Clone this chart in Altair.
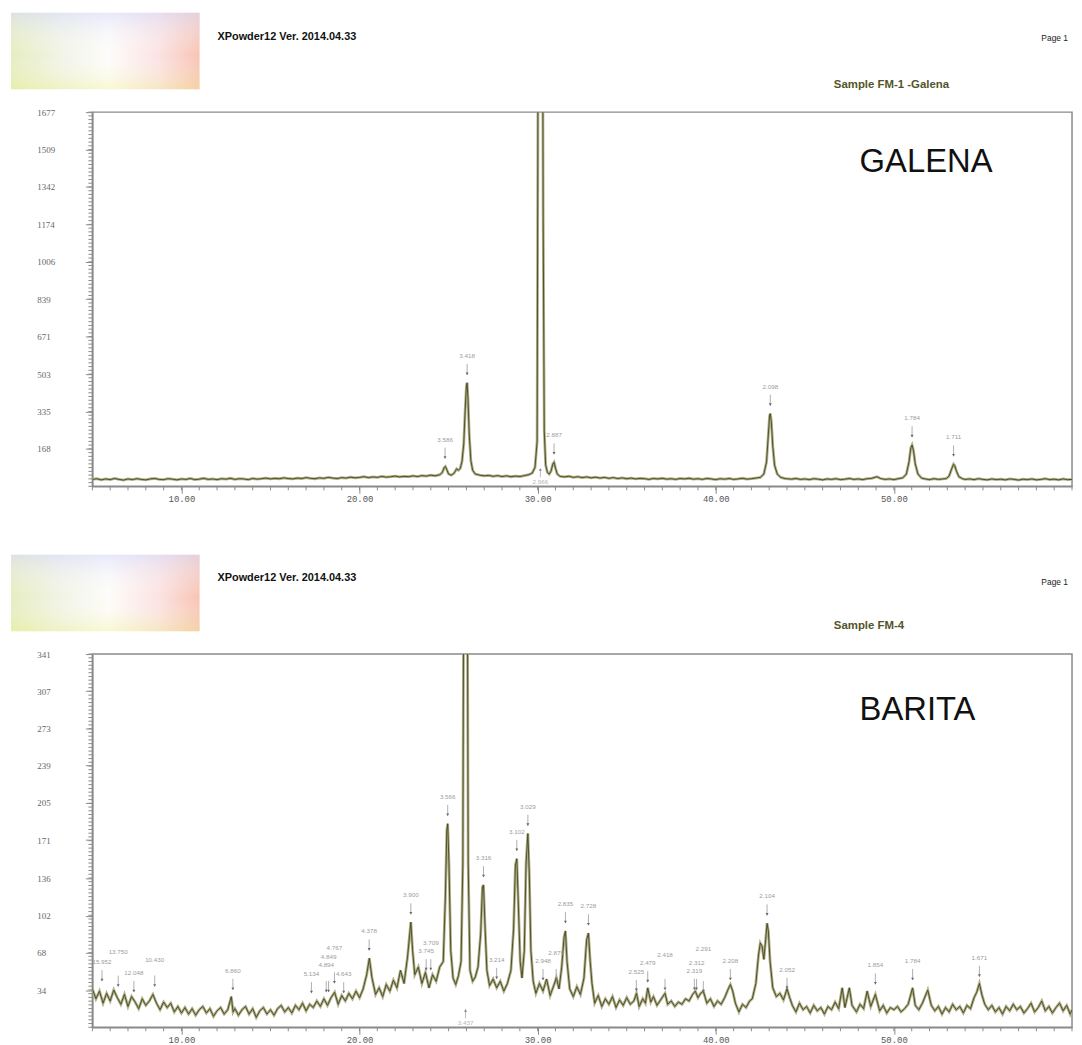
import altair as alt
import pandas as pd
import numpy as np

# ---------------- Sample FM-1 (Galena) ----------------
GALENA_TTH = [
    5.00, 5.25, 5.50, 5.75, 6.00, 6.25, 6.50, 6.75, 7.00, 7.25,
    7.50, 7.75, 8.00, 8.25, 8.50, 8.75, 9.00, 9.25, 9.50, 9.75,
    10.00, 10.25, 10.50, 10.75, 11.00, 11.25, 11.50, 11.75, 12.00, 12.25,
    12.50, 12.75, 13.00, 13.25, 13.50, 13.75, 14.00, 14.25, 14.50, 14.75,
    15.00, 15.25, 15.50, 15.75, 16.00, 16.25, 16.50, 16.75, 17.00, 17.25,
    17.50, 17.75, 18.00, 18.25, 18.50, 18.75, 19.00, 19.25, 19.50, 19.75,
    20.00, 20.25, 20.50, 20.75, 21.00, 21.25, 21.50, 21.75, 22.00, 22.25,
    22.50, 22.75, 23.00, 23.25, 23.50, 23.75, 24.00, 24.25, 24.50, 24.65,
    24.75, 24.82, 24.90, 25.00, 25.15, 25.30, 25.45, 25.55, 25.65, 25.75,
    25.85, 25.93, 26.00, 26.04, 26.09, 26.16, 26.25, 26.35, 26.50, 26.75,
    27.00, 27.25, 27.50, 27.75, 28.00, 28.25, 28.50, 28.75, 29.00, 29.25,
    29.50, 29.70, 29.85, 29.97, 30.01, 30.05, 30.17, 30.25, 30.31, 30.37,
    30.45, 30.55, 30.65, 30.75, 30.85, 30.92, 31.00, 31.10, 31.25, 31.50,
    31.75, 32.00, 32.25, 32.50, 32.75, 33.00, 33.25, 33.50, 33.75, 34.00,
    34.25, 34.50, 34.75, 35.00, 35.25, 35.50, 35.75, 36.00, 36.25, 36.50,
    36.75, 37.00, 37.25, 37.50, 37.75, 38.00, 38.25, 38.50, 38.75, 39.00,
    39.25, 39.50, 39.75, 40.00, 40.25, 40.50, 40.75, 41.00, 41.25, 41.50,
    41.75, 42.00, 42.25, 42.50, 42.70, 42.85, 42.95, 43.02, 43.06, 43.12,
    43.20, 43.30, 43.45, 43.65, 43.90, 44.25, 44.50, 44.75, 45.00, 45.25,
    45.50, 45.75, 46.00, 46.25, 46.50, 46.75, 47.00, 47.25, 47.50, 47.75,
    48.00, 48.25, 48.50, 48.75, 49.05, 49.25, 49.50, 49.75, 50.00, 50.25,
    50.50, 50.70, 50.85, 50.95, 51.02, 51.10, 51.20, 51.35, 51.55, 51.75,
    52.00, 52.25, 52.50, 52.75, 52.95, 53.10, 53.25, 53.35, 53.42, 53.52,
    53.65, 53.85, 54.00, 54.25, 54.50, 54.75, 55.00, 55.25, 55.50, 55.75,
    56.00, 56.25, 56.50, 56.75, 57.00, 57.25, 57.50, 57.75, 58.00, 58.25,
    58.50, 58.75, 59.00, 59.25, 59.50, 59.75, 60.00,
]
GALENA_I = [
    31, 34, 29, 33, 30, 35, 31, 28, 33, 30,
    34, 31, 29, 33, 35, 31, 30, 34, 32, 29,
    33, 31, 35, 30, 32, 36, 31, 33, 30, 34,
    32, 36, 31, 34, 33, 30, 35, 32, 34, 37,
    33, 36, 34, 38, 35, 33, 37, 35, 39, 36,
    34, 38, 36, 40, 37, 35, 39, 37, 41, 38,
    40, 43, 39, 42, 40, 44, 41, 43, 46, 42,
    45, 43, 47, 44, 48, 46, 50, 47, 52, 62,
    84, 89, 74, 55, 50, 58, 78, 72, 80, 110,
    190, 340, 450, 464, 390, 230, 115, 72, 55, 50,
    47, 49, 45, 48, 44, 47, 43, 46, 44, 48,
    52, 60, 85, 200, 1500, 3500, 4000, 3000, 1200, 250,
    95, 62, 55, 68, 100, 108, 82, 55, 45, 42,
    45, 40, 43, 39, 42, 38, 41, 37, 40, 36,
    39, 35, 38, 34, 37, 33, 36, 34, 31, 35,
    33, 36, 32, 34, 31, 35, 33, 36, 32, 34,
    31, 35, 33, 30, 34, 32, 35, 31, 33, 36,
    32, 34, 37, 40, 55, 110, 230, 315, 326, 290,
    180, 95, 55, 40, 35, 32, 35, 31, 33, 30,
    34, 32, 29, 33, 31, 34, 30, 32, 35, 31,
    33, 30, 34, 36, 43, 35, 31, 33, 30, 34,
    38, 55, 110, 172, 185, 160, 100, 55, 37, 33,
    30, 34, 31, 33, 35, 46, 80, 99, 92, 66,
    43, 34, 31, 33, 30, 34, 31, 29, 33, 30,
    32, 29, 33, 31, 28, 32, 30, 33, 29, 31,
    34, 30, 32, 29, 33, 30, 31,
]
GALENA_PEAK_TTH = [24.80, 26.04, 30.92, 43.06, 51.02, 53.35]
GALENA_PEAK_I = [89, 464, 108, 326, 185, 99]
GALENA_PEAK_LABEL = ["3.586", "3.418", "2.887", "2.098", "1.784", "1.711"]
GALENA_OFF_TTH = [30.15]
GALENA_OFF_LABEL = ["2.966"]
GALENA_Y_TICKS = [168, 335, 503, 671, 839, 1006, 1174, 1342, 1509, 1677]

# ---------------- Sample FM-4 (Barita) ----------------
BARITA_TTH = [
    5.0, 5.2, 5.4, 5.6, 5.8, 6.0, 6.2, 6.4, 6.6, 6.8,
    7.0, 7.2, 7.4, 7.6, 7.8, 8.0, 8.2, 8.4, 8.6, 8.8,
    9.0, 9.2, 9.4, 9.6, 9.8, 10.0, 10.2, 10.4, 10.6, 10.8,
    11.0, 11.2, 11.4, 11.6, 11.8, 12.0, 12.2, 12.4, 12.6, 12.8,
    12.9, 13.0, 13.2, 13.4, 13.6, 13.8, 14.0, 14.2, 14.4, 14.6,
    14.8, 15.0, 15.2, 15.4, 15.6, 15.8, 16.0, 16.2, 16.4, 16.6,
    16.8, 17.0, 17.2, 17.4, 17.6, 17.8, 18.0, 18.2, 18.4, 18.6,
    18.8, 19.0, 19.2, 19.4, 19.6, 19.8, 20.0, 20.2, 20.4, 20.55,
    20.7, 20.9, 21.1, 21.3, 21.5, 21.7, 21.9, 22.1, 22.3, 22.5,
    22.7, 22.78, 22.88, 22.98, 23.1, 23.3, 23.5, 23.7, 23.9, 24.1,
    24.3, 24.5, 24.7, 24.82, 24.9, 24.95, 25.02, 25.12, 25.25, 25.4,
    25.55, 25.7, 25.8, 25.88, 25.95, 26.02, 26.1, 26.2, 26.35, 26.5,
    26.65, 26.8, 26.9, 26.96, 27.05, 27.15, 27.3, 27.5, 27.7, 27.9,
    28.1, 28.3, 28.5, 28.65, 28.75, 28.83, 28.92, 29.02, 29.12, 29.25,
    29.35, 29.45, 29.53, 29.62, 29.75, 29.9, 30.1, 30.3, 30.5, 30.7,
    30.9, 31.05, 31.2, 31.35, 31.48, 31.56, 31.65, 31.8, 32.0, 32.2,
    32.4, 32.6, 32.75, 32.85, 32.95, 33.05, 33.2, 33.4, 33.6, 33.8,
    34.0, 34.2, 34.4, 34.6, 34.8, 35.0, 35.2, 35.4, 35.55, 35.7,
    35.9, 36.05, 36.18, 36.35, 36.5, 36.7, 36.9, 37.15, 37.3, 37.5,
    37.7, 37.9, 38.1, 38.3, 38.5, 38.7, 38.85, 39.0, 39.15, 39.3,
    39.5, 39.7, 39.9, 40.1, 40.3, 40.5, 40.7, 40.82, 40.95, 41.1,
    41.3, 41.5, 41.7, 41.9, 42.05, 42.25, 42.4, 42.5, 42.6, 42.7,
    42.8, 42.88, 42.95, 43.05, 43.2, 43.4, 43.6, 43.8, 44.0, 44.15,
    44.3, 44.5, 44.7, 44.9, 45.1, 45.3, 45.5, 45.7, 45.9, 46.1,
    46.3, 46.5, 46.7, 46.9, 47.1, 47.25, 47.5, 47.65, 47.9, 48.1,
    48.3, 48.5, 48.7, 48.96, 49.2, 49.4, 49.6, 49.8, 50.0, 50.2,
    50.4, 50.6, 50.8, 51.05, 51.2, 51.4, 51.6, 51.9, 52.1, 52.3,
    52.5, 52.7, 52.9, 53.1, 53.3, 53.5, 53.7, 53.9, 54.1, 54.3,
    54.5, 54.65, 54.8, 54.95, 55.1, 55.3, 55.5, 55.7, 55.9, 56.1,
    56.3, 56.5, 56.7, 56.9, 57.1, 57.3, 57.5, 57.7, 57.9, 58.1,
    58.3, 58.5, 58.7, 58.9, 59.1, 59.3, 59.5, 59.7, 59.9, 60.0,
]
BARITA_I = [
    35, 26, 33, 22, 31, 24, 34, 27, 21, 30,
    19, 28, 23, 17, 26, 20, 24, 30, 22, 16,
    23, 18, 22, 14, 19, 13, 18, 12, 17, 11,
    16, 19, 13, 17, 10, 15, 18, 12, 16, 28,
    14, 17, 11, 16, 19, 12, 17, 9, 15, 18,
    12, 16, 11, 17, 20, 14, 18, 13, 20, 16,
    22, 15, 21, 18, 24, 19, 26, 20, 27, 32,
    21, 29, 24, 31, 26, 33, 27, 35, 48, 63,
    45, 30, 36, 28, 39, 33, 43, 36, 52, 40,
    65, 79, 96, 70, 48, 55, 40, 50, 36, 48,
    42, 55, 60, 120, 180, 186, 150, 70, 45, 39,
    47, 60, 150, 600, 800, 600, 150, 52, 42, 46,
    55, 85, 128, 130, 90, 52, 38, 44, 36, 42,
    33, 40, 52, 90, 148, 154, 110, 60, 45, 70,
    150, 177, 140, 70, 42, 31, 40, 33, 44, 29,
    38, 45, 35, 55, 82, 88, 60, 35, 28, 37,
    30, 45, 80, 86, 60, 40, 22, 29, 19, 26,
    21, 28, 18, 25, 20, 27, 21, 24, 31, 19,
    26, 22, 36, 23, 28, 20, 25, 31, 21, 24,
    19, 23, 21, 26, 24, 30, 33, 27, 31, 33,
    22, 26, 19, 24, 21, 27, 35, 39, 33, 22,
    14, 21, 18, 24, 26, 40, 66, 77, 74, 62,
    80, 95, 88, 60, 36, 28, 31, 25, 35, 27,
    20, 14, 22, 16, 19, 13, 20, 15, 18, 12,
    19, 16, 23, 17, 36, 18, 36, 20, 14, 21,
    17, 33, 19, 30, 15, 20, 13, 18, 16, 19,
    14, 17, 21, 36, 20, 16, 22, 34, 20, 15,
    19, 12, 18, 14, 21, 16, 19, 13, 20, 17,
    27, 32, 40, 29, 21, 16, 20, 14, 18, 12,
    19, 15, 21, 16, 19, 13, 17, 22, 14, 18,
    24, 15, 19, 13, 18, 22, 15, 20, 12, 16,
]
BARITA_PEAK_TTH = [5.54, 6.45, 7.33, 8.50, 12.89, 17.30, 18.13, 18.26, 18.59, 19.11,
                   20.54, 22.88, 23.74, 24.00, 24.95, 26.96, 27.70, 28.83, 29.45, 30.30,
                   31.04, 31.56, 32.85, 35.54, 36.18, 37.15, 38.80, 38.92, 39.30, 40.82,
                   42.88, 44.00, 48.96, 51.05, 54.80]
BARITA_PEAK_I = [35, 30, 25, 30, 27, 24, 25, 25, 33, 24,
                 63, 96, 45, 45, 186, 130, 37, 154, 177, 36,
                 36, 88, 86, 26, 34, 27, 27, 27, 25, 36,
                 95, 28, 32, 36, 39]
BARITA_PEAK_LABEL = ["15.952", "13.750", "12.048", "10.430", "6.860", "5.134", "4.894", "4.849", "4.767", "4.643",
                     "4.378", "3.900", "3.745", "3.709", "3.566", "3.316", "3.214", "3.102", "3.029", "2.948",
                     "2.879", "2.835", "2.728", "2.525", "2.479", "2.418", "2.319", "2.312", "2.291", "2.208",
                     "2.104", "2.052", "1.854", "1.784", "1.671"]
BARITA_OFF_TTH = [25.95]
BARITA_OFF_LABEL = ["3.437"]
BARITA_Y_TICKS = [34, 68, 102, 136, 171, 205, 239, 273, 307, 341]

X_TICKS = [10, 20, 30, 40, 50]
X_MINOR = list(range(5, 61))

W = 987
X0, X1 = 5, 60
LINE_DARK = "#45451f"
LINE_LIGHT = "#b0b08a"
AXIS_GRAY = "#8a8a8a"
LAB_FONT = 6.3
LAB_DY = -27
TIER_PX = 8


def tiered_label_heights(tth, inten, labs, ymax, h):
    """Greedy layout: lift a label by whole tiers until it clears earlier ones."""
    order = np.argsort(tth)
    placed = []
    out = [0.0] * len(tth)
    for i in order:
        px = (tth[i] - X0) / (X1 - X0) * W
        w = len(labs[i]) * LAB_FONT * 0.56 + 2
        base = h - inten[i] / ymax * h + LAB_DY
        tier = 0
        while tier < 8:
            py = base - tier * TIER_PX
            clash = any(abs(px - qx) < (w + qw) / 2 and abs(py - qy) < TIER_PX
                        for qx, qy, qw in placed)
            if not clash:
                break
            tier += 1
        placed.append((px, base - tier * TIER_PX, w))
        out[i] = inten[i] + tier * TIER_PX * ymax / h
    return out


def panel(tth, inten, yticks, pk_tth, pk_i, pk_lab, off_tth, off_lab,
          sample, mineral, h, ys):
    ymax = yticks[-1]
    df = pd.DataFrame({"tth": tth, "I": inten})
    xs = alt.Scale(domain=[X0, X1], nice=False, zero=False)
    yscale = alt.Scale(domain=[0, ymax], nice=False, zero=True)
    x_axis = alt.Axis(values=X_TICKS, format=".2f", title=None, tickSize=7,
                      labelFont="Liberation Mono", labelFontSize=9, labelColor="#555",
                      labelPadding=1, domainColor=AXIS_GRAY, tickColor=AXIS_GRAY,
                      domainWidth=1.5, grid=False, labelFlush=False)
    y_axis = alt.Axis(values=yticks, format="d", title=None, tickSize=7,
                      labelAlign="left", labelPadding=49, labelBaseline="middle",
                      labelFont="Liberation Serif", labelFontSize=9, labelColor="#666",
                      domainColor=AXIS_GRAY, tickColor=AXIS_GRAY, domainWidth=1.5,
                      grid=False)

    under = alt.Chart(df).mark_line(clip=True, color=LINE_LIGHT, strokeWidth=2.8).encode(
        x=alt.X("tth:Q", scale=xs, axis=x_axis),
        y=alt.Y("I:Q", scale=yscale, axis=y_axis),
    )
    over = alt.Chart(df).mark_line(clip=True, color=LINE_DARK, strokeWidth=0.9).encode(
        x="tth:Q", y="I:Q")

    xm = pd.DataFrame({"tth": X_MINOR})
    x_minor = alt.Chart(xm).mark_rule(color=AXIS_GRAY, strokeWidth=1).encode(
        x="tth:Q", y=alt.value(h), y2=alt.value(h + 4))
    ym = pd.DataFrame({"I": np.linspace(0, ymax, 101)})
    y_minor = alt.Chart(ym).mark_rule(color=AXIS_GRAY, strokeWidth=1).encode(
        y="I:Q", x=alt.value(-4), x2=alt.value(0))

    lab_i = tiered_label_heights(pk_tth, pk_i, pk_lab, ymax, h)
    pk = pd.DataFrame({"tth": pk_tth, "I": pk_i, "Ilab": lab_i, "lab": pk_lab})
    stems = alt.Chart(pk).mark_rule(color="#9a9a9a", strokeWidth=0.8,
                                    yOffset=-19, y2Offset=-8).encode(
        x="tth:Q", y="I:Q", y2="I:Q")
    heads = alt.Chart(pk).mark_point(shape="triangle-down", filled=True, size=9,
                                     color="#6a6a6a", opacity=1, yOffset=-9).encode(
        x="tth:Q", y="I:Q")
    labels = alt.Chart(pk).mark_text(dy=LAB_DY, fontSize=LAB_FONT, color="#9c9c9c",
                                     font="Liberation Sans").encode(
        x="tth:Q", y="Ilab:Q", text="lab:N")

    off = pd.DataFrame({"tth": off_tth, "lab": off_lab})
    off_stem = alt.Chart(off).mark_rule(color="#aaaaaa", strokeWidth=0.8).encode(
        x="tth:Q", y=alt.value(h - 18), y2=alt.value(h - 9))
    off_head = alt.Chart(off).mark_point(shape="triangle-up", filled=True, size=9,
                                         color="#888888", opacity=1).encode(
        x="tth:Q", y=alt.value(h - 17))
    off_label = alt.Chart(off).mark_text(fontSize=LAB_FONT, color="#b5b5b5",
                                         font="Liberation Sans").encode(
        x="tth:Q", y=alt.value(h - 4), text="lab:N")

    one = pd.DataFrame({"k": [0]})
    logo = alt.Chart(one).mark_rect(
        color=alt.Gradient(
            gradient="linear",
            stops=[alt.GradientStop(color="#e6edc0", offset=0),
                   alt.GradientStop(color="#f2f4e8", offset=0.28),
                   alt.GradientStop(color="#fdfcfa", offset=0.52),
                   alt.GradientStop(color="#fbe3e3", offset=0.78),
                   alt.GradientStop(color="#f8c4b4", offset=1)],
            x1=0, x2=1, y1=0, y2=0),
    ).encode(x=alt.value(-82), x2=alt.value(108), y=alt.value(-100), y2=alt.value(-23))
    logo_tint = alt.Chart(one).mark_rect(
        color=alt.Gradient(
            gradient="linear",
            stops=[alt.GradientStop(color="rgba(214,218,250,0.55)", offset=0),
                   alt.GradientStop(color="rgba(255,255,255,0)", offset=0.55),
                   alt.GradientStop(color="rgba(236,240,120,0.30)", offset=1)],
            x1=0, x2=0, y1=0, y2=1),
    ).encode(x=alt.value(-82), x2=alt.value(108), y=alt.value(-100), y2=alt.value(-23))

    hdr = alt.Chart(one).mark_text(align="left", baseline="middle", font="Liberation Sans",
                                   fontWeight="bold", fontSize=11, color="#111",
                                   text="XPowder12 Ver. 2014.04.33").encode(
        x=alt.value(126), y=alt.value(ys[0]))
    page = alt.Chart(one).mark_text(align="right", baseline="middle", font="Liberation Sans",
                                    fontSize=8.5, color="#222", text="Page 1").encode(
        x=alt.value(983), y=alt.value(ys[1]))
    samp = alt.Chart(one).mark_text(align="left", baseline="middle", font="Liberation Sans",
                                    fontWeight="bold", fontSize=11.5, color="#54542a",
                                    text=sample).encode(
        x=alt.value(747), y=alt.value(ys[2]))
    big = alt.Chart(one).mark_text(align="left", baseline="middle", font="Liberation Sans",
                                   fontSize=33, color="#111", text=mineral).encode(
        x=alt.value(773), y=alt.value(ys[3]))

    return alt.layer(logo, logo_tint, hdr, page, samp, under, over, x_minor, y_minor,
                     stems, heads, labels, off_stem, off_head, off_label,
                     big).properties(width=W, height=h)


top = panel(GALENA_TTH, GALENA_I, GALENA_Y_TICKS, GALENA_PEAK_TTH, GALENA_PEAK_I,
            GALENA_PEAK_LABEL, GALENA_OFF_TTH, GALENA_OFF_LABEL,
            "Sample FM-1 -Galena", "GALENA", 377, (-76, -75, -27, 50))
bottom = panel(BARITA_TTH, BARITA_I, BARITA_Y_TICKS, BARITA_PEAK_TTH, BARITA_PEAK_I,
               BARITA_PEAK_LABEL, BARITA_OFF_TTH, BARITA_OFF_LABEL,
               "Sample FM-4", "BARITA", 376, (-77, -73, -28, 56))

chart = alt.vconcat(top, bottom, spacing=169, bounds="flush").properties(
    padding={"left": 2, "top": 0, "right": 0, "bottom": 0},
    background="white",
).configure_view(stroke=AXIS_GRAY, strokeWidth=1.5)

chart.save("out.html", embed_options={"renderer": "svg", "actions": False})
